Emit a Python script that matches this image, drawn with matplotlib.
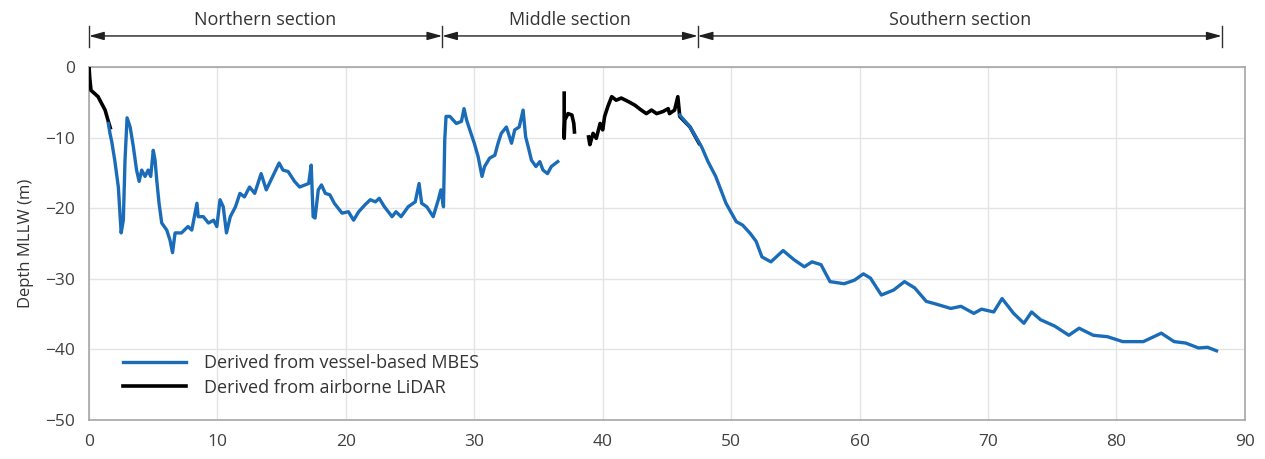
import numpy as np
import matplotlib.pyplot as plt

plt.rcParams['font.family'] = ['Open Sans', 'DejaVu Sans']

# along-track distance (km) and depth (m) of the MBES-derived profile; NaN marks a gap
mbes_km = [1.5, 1.63, 1.77, 2.0, 2.28, 2.5, 2.67, 2.8, 2.96, 3.2, 3.45, 3.7, 3.9, 4.1, 4.36,
           4.6, 4.8, 5.0, 5.14, 5.27, 5.45, 5.66, 6.05, 6.3, 6.5, 6.7, 7.2, 7.7, 8.0, 8.4,
           8.5, 8.9, 9.3, 9.7, 9.95, 10.2, 10.45, 10.7, 11.0, 11.4, 11.75, 12.1, 12.5, 12.9,
           13.4, 13.8, 14.3, 14.8, 15.1, 15.5, 16.0, 16.4, 17.1, 17.3, 17.45, 17.6, 17.85,
           18.1, 18.4, 18.75, 19.1, 19.7, 20.2, 20.6, 21.0, 21.5, 21.9, 22.3, 22.6, 23.0,
           23.6, 23.9, 24.3, 24.85, 25.4, 25.7, 25.9, 26.3, 26.8, 27.2, 27.4, 27.6, 27.7,
           27.8, 28.1, 28.6, 29.0, 29.2, 29.4, 29.65, 30.0, 30.3, 30.6, 30.8, 31.2, 31.6,
           31.85, 32.1, 32.5, 32.9, 33.15, 33.5, 33.8, 34.0, 34.2, 34.45, 34.8, 35.1, 35.35,
           35.7, 36.0, 36.5, np.nan,
           46.0, 46.8, 47.7, 48.2, 48.8, 49.6, 50.4, 50.9, 51.5, 51.95, 52.4, 53.1, 54.05,
           54.9, 55.7, 56.3, 57.0, 57.7, 58.8, 59.6, 60.3, 60.85, 61.7, 62.65, 63.5, 64.3,
           65.2, 66.0, 67.1, 67.9, 68.9, 69.5, 70.45, 71.1, 72.0, 72.8, 73.4, 74.1, 75.2,
           76.3, 77.1, 78.2, 79.3, 80.5, 82.1, 83.5, 84.5, 85.4, 86.4, 87.1, 87.8]
mbes_depth = [-8.0, -9.4, -10.6, -13.2, -17.0, -23.5, -21.7, -13.2, -7.2, -8.5, -11.3, -14.6,
              -16.2, -14.6, -15.5, -14.6, -15.5, -11.8, -13.2, -16.0, -19.3, -22.1, -23.1,
              -24.5, -26.3, -23.5, -23.5, -22.6, -23.1, -19.3, -21.2, -21.2, -22.1, -21.7,
              -22.6, -18.8, -19.8, -23.5, -21.2, -19.8, -17.9, -18.4, -17.0, -17.9, -15.1,
              -17.4, -15.5, -13.6, -14.6, -14.8, -16.2, -17.0, -16.5, -13.9, -21.2, -21.4,
              -17.4, -16.7, -17.9, -18.1, -19.3, -20.7, -20.5, -21.7, -20.5, -19.5, -18.8,
              -19.1, -18.6, -19.8, -21.2, -20.5, -21.2, -19.8, -19.1, -16.5, -19.3, -19.8,
              -21.2, -18.8, -17.4, -19.8, -10.3, -7.0, -7.0, -8.0, -7.7, -5.9, -7.5, -8.9,
              -10.8, -12.7, -15.5, -14.1, -12.9, -12.5, -10.8, -9.4, -8.5, -10.8, -8.9, -8.5,
              -6.1, -9.9, -11.3, -13.2, -14.1, -13.4, -14.6, -15.1, -14.1, -13.4, np.nan,
              -6.8, -8.5, -11.3, -13.4, -15.5, -19.3, -21.9, -22.4, -23.6, -24.7, -26.9,
              -27.6, -26.0, -27.3, -28.3, -27.6, -28.0, -30.4, -30.7, -30.2, -29.3, -29.9,
              -32.3, -31.6, -30.4, -31.3, -33.2, -33.6, -34.2, -33.9, -34.9, -34.3, -34.7,
              -32.8, -34.9, -36.3, -34.7, -35.8, -36.7, -38.0, -37.0, -38.0, -38.2, -38.9,
              -38.9, -37.7, -38.9, -39.1, -39.8, -39.7, -40.2]

# LiDAR-derived profile
lidar_km = [0.0, 0.05, 0.15, 0.7, 1.25, 1.5, 1.65, np.nan,
            37.0, 37.0, 37.05, 37.3, 37.6, 37.75, 37.8, np.nan,
            38.9, 39.0, 39.25, 39.5, 39.8, 40.0, 40.15, 40.4, 40.7, 41.05, 41.45, 42.0,
            42.5, 43.0, 43.4, 43.8, 44.2, 44.7, 45.1, 45.2, 45.6, 45.85, 46.0, 46.8, 47.5]
lidar_depth = [0.0, -1.5, -3.3, -4.2, -6.1, -7.7, -8.6, np.nan,
               -3.7, -10.1, -7.5, -6.6, -6.8, -8.0, -9.2, np.nan,
               -9.9, -11.0, -9.4, -10.1, -8.0, -8.9, -7.0, -5.6, -4.2, -4.7, -4.4, -4.9,
               -5.4, -6.1, -6.6, -6.1, -6.6, -6.3, -5.9, -6.6, -6.1, -4.2, -7.0, -8.5, -10.8]

sections = ['Northern section', 'Middle section', 'Southern section']
section_edges = [0, 27.5, 47.4, 88.2]

fig = plt.figure(figsize=(12.65, 4.59), dpi=100)
ax = fig.add_axes([0.0704, 0.085, 0.9136, 0.769])

ax.plot(lidar_km, lidar_depth, color='black', lw=2.6, label='Derived from airborne LiDAR', zorder=3)
ax.plot(mbes_km, mbes_depth, color='#1b6cb8', lw=2.4, label='Derived from vessel-based MBES', zorder=4)

ax.set_xlim(0, 90)
ax.set_ylim(-50, 0)
ax.set_xticks(np.arange(0, 91, 10))
ax.set_yticks(np.arange(-50, 1, 10))
ax.grid(color='#e4e4e4', lw=1)
ax.set_axisbelow(True)
ax.tick_params(length=0, labelsize=12.5, labelcolor='#404040', pad=10)
for s in ax.spines.values():
    s.set_color('#a6a6a6')
    s.set_linewidth(1.2)
ax.set_ylabel('Depth MLLW (m)', fontsize=12, color='#333333', labelpad=8)

# section brackets above the plot
for i, name in enumerate(sections):
    x0, x1 = section_edges[i], section_edges[i + 1]
    ax.annotate('', xy=(x0, 4.4), xytext=(x1, 4.4), xycoords='data',
                arrowprops=dict(arrowstyle='<|-|>,head_length=0.9,head_width=0.25',
                                color='#202020', lw=1, shrinkA=0, shrinkB=0),
                annotation_clip=False)
    ax.text((x0 + x1) / 2, 6.7, name, ha='center', va='center', fontsize=13,
            color='#333333', clip_on=False)
for x in section_edges:
    ax.plot([x, x], [2.8, 5.8], color='#303030', lw=1, clip_on=False)

handles, labels = ax.get_legend_handles_labels()
ax.legend(handles[::-1], labels[::-1], loc='lower left', bbox_to_anchor=(0.015, 0.02),
          frameon=False, fontsize=13, handlelength=3.5, labelcolor='#333333',
          handletextpad=1.0, labelspacing=0.35)

fig.savefig('out.png', dpi=100)
